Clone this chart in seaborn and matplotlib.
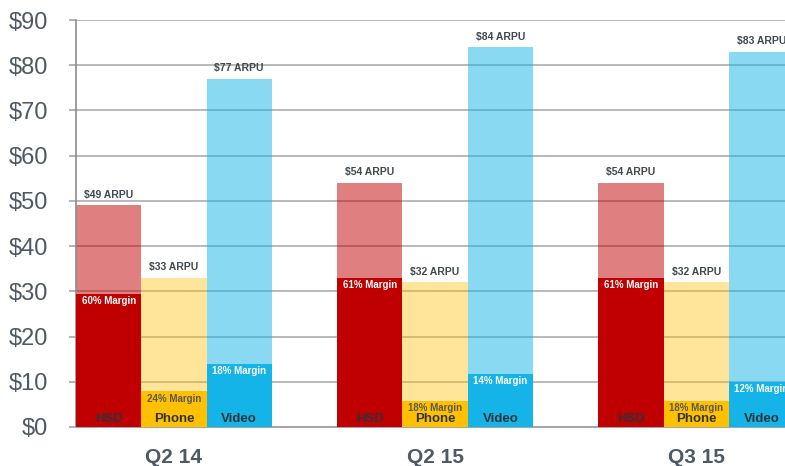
# -*- coding: utf-8 -*-

# ARPU vs margin by product, three quarters
import pandas as pd
import seaborn as sns
import matplotlib.pyplot as plt

quarters = ['Q2 14', 'Q2 15', 'Q3 15']
products = ['HSD', 'Phone', 'Video']

arpu_hsd = [49, 54, 54]
arpu_phone = [33, 32, 32]
arpu_video = [77, 84, 83]

margin_hsd = [29.4, 32.9, 32.9]
margin_phone = [7.9, 5.8, 5.8]
margin_video = [13.9, 11.8, 10.0]

pct_hsd = ['60%', '61%', '61%']
pct_phone = ['24%', '18%', '18%']
pct_video = ['18%', '14%', '12%']

y_ticks = [0, 10, 20, 30, 40, 50, 60, 70, 80, 90]

base_colors = {'HSD': '#C00000', 'Phone': '#FFC000', 'Video': '#15B4E8'}
light_alpha = {'HSD': 0.5, 'Phone': 0.4, 'Video': 0.5}
pct_colors = {'HSD': 'white', 'Phone': '#595959', 'Video': 'white'}

rows = []
for qi, q in enumerate(quarters):
    for pi, (p, a, m, pc) in enumerate(zip(products,
                                           [arpu_hsd, arpu_phone, arpu_video],
                                           [margin_hsd, margin_phone, margin_video],
                                           [pct_hsd, pct_phone, pct_video])):
        rows.append({'quarter': q, 'product': p, 'pos': 4 * qi + pi + 0.5,
                     'arpu': a[qi], 'margin': m[qi], 'pct': pc[qi]})
df = pd.DataFrame(rows)

sns.set_style('white')
plt.rcParams['font.family'] = ['Liberation Sans', 'DejaVu Sans']

fig = plt.figure(figsize=(7.85, 4.66), dpi=100)
ax = fig.add_axes([0.0968, 0.0837, 0.9032, 0.8733])

grid_c = '#A6A6A6'
text_c = '#4F5963'

# positions of one product are 4 apart, so width 0.25 -> one unit wide bars
for p in products:
    sub = df[df['product'] == p]
    sns.barplot(data=sub, x='pos', y='arpu', native_scale=True, width=0.25,
                color=base_colors[p], alpha=light_alpha[p], saturation=1, linewidth=0,
                errorbar=None, ax=ax)
    sns.barplot(data=sub, x='pos', y='margin', native_scale=True, width=0.25,
                color=base_colors[p], saturation=1, linewidth=0, errorbar=None, ax=ax)

# light ARPU bars above the grid, solid margin bars above everything
for patch in ax.patches:
    a = patch.get_alpha()
    patch.set_zorder(2 if (a is not None and a < 1) else 3)

for _, r in df.iterrows():
    ax.text(r['pos'], r['arpu'] + 1.2, '$%d ARPU' % r['arpu'], ha='center', va='bottom',
            fontsize=7.5, fontweight='bold', color='#404850', zorder=5)
    ax.text(r['pos'], r['margin'] - 0.5, r['pct'] + ' Margin', ha='center', va='top',
            fontsize=7, fontweight='bold', color=pct_colors[r['product']], zorder=5)
    ax.text(r['pos'], 1.7, r['product'], ha='center', va='center',
            fontsize=9.5, fontweight='bold', color='#2E3338', zorder=5)

ax.set_xlim(0, 10.86)
ax.set_ylim(0, 90)
ax.set_yticks(y_ticks)
ax.set_yticklabels(['$%d' % v for v in y_ticks], fontsize=17, color=text_c)
ax.set_xticks([1.5, 5.5, 9.5])
ax.set_xticklabels(quarters, fontsize=15, fontweight='bold', color=text_c)
ax.tick_params(axis='y', length=5, width=1.2, color=grid_c, pad=15, direction='out', left=True)
ax.tick_params(axis='x', length=0, pad=15)
ax.set_xlabel('')
ax.set_ylabel('')

ax.set_axisbelow(True)
ax.yaxis.grid(True, color=grid_c, linewidth=1.1)
for s in ['top', 'right']:
    ax.spines[s].set_visible(False)
ax.spines['left'].set_color('#8C8C8C')
ax.spines['left'].set_linewidth(1.2)
ax.spines['bottom'].set_color(grid_c)
ax.spines['bottom'].set_linewidth(1.5)

plt.savefig('out.png', dpi=100)
